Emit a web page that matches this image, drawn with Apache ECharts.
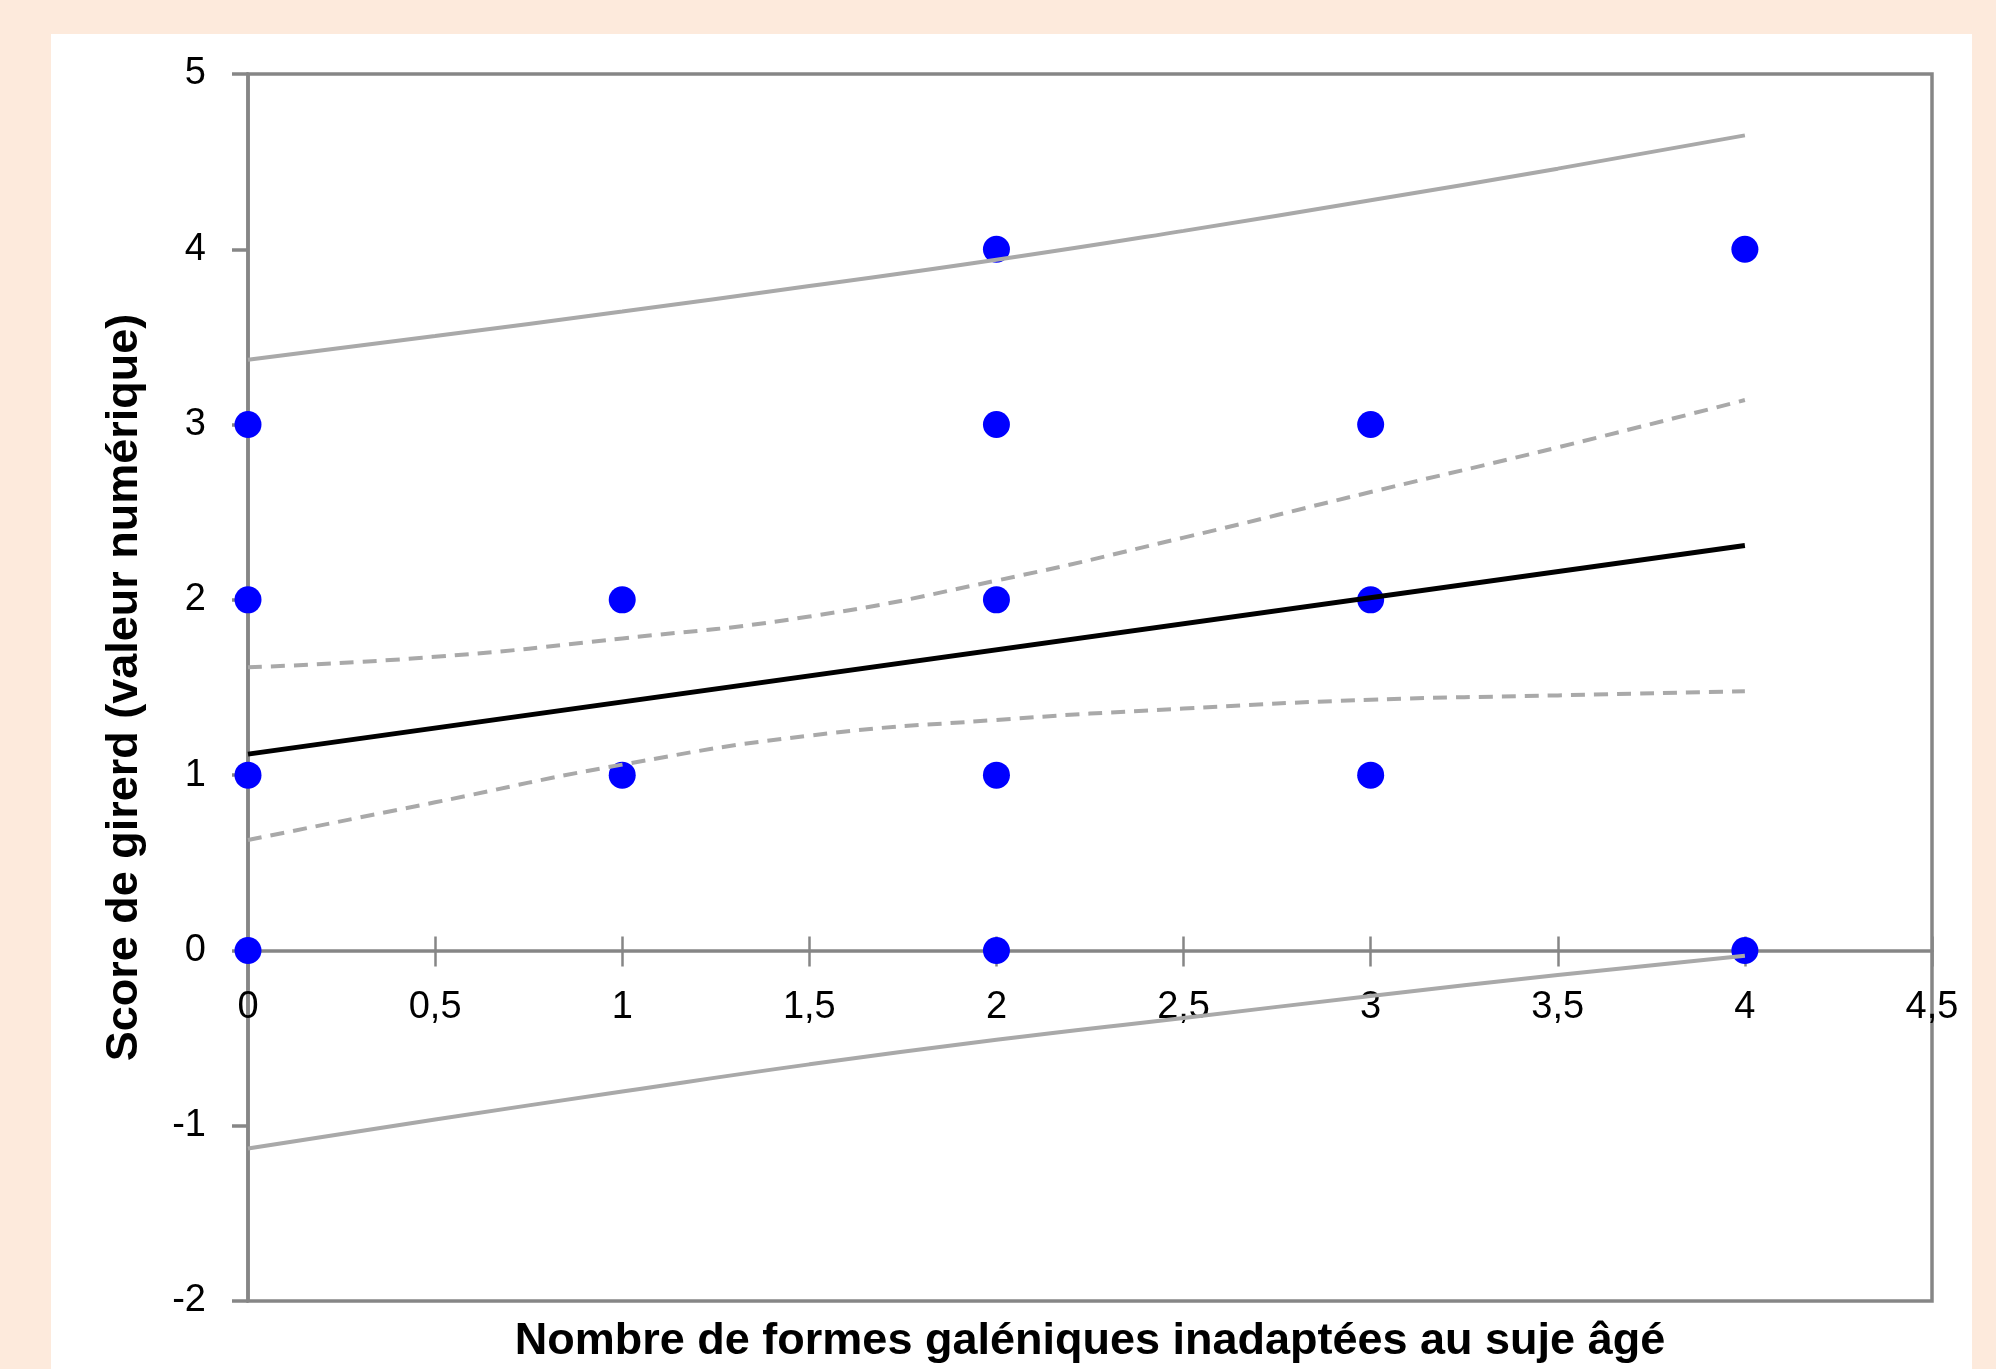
<!DOCTYPE html>
<html>
<head>
<meta charset="utf-8">
<script src="https://cdn.jsdelivr.net/npm/echarts@6/dist/echarts.min.js"></script>
<style>
  html, body {
    margin: 0;
    padding: 0;
    width: 1996px;
    height: 1369px;
    background: #fdeadc;
    overflow: hidden;
  }
  .panel {
    position: absolute;
    left: 51px;
    top: 34px;
    width: 1921px;
    height: 1335px;
    background: #ffffff;
  }
  #chart {
    position: absolute;
    left: 0;
    top: 0;
    width: 1996px;
    height: 1369px;
  }
</style>
</head>
<body>
<div class="panel"></div>
<div id="chart"></div>
<script>
// observed points: number of unsuitable forms vs Girerd score
const formsCount = [0, 0, 0, 0, 1, 1, 2, 2, 2, 2, 2, 3, 3, 3, 4, 4]
const girerdScore = [3, 2, 1, 0, 2, 1, 4, 3, 2, 1, 0, 3, 2, 1, 4, 0]

// regression line end points
const fitX = [0, 4]
const fitY = [1.12, 2.31]

// confidence / prediction bands, read along x
const bandX = [0, 0.5, 1, 1.5, 2, 2.5, 3, 3.5, 4]
const confUpper = [1.615, 1.675, 1.78, 1.905, 2.11, 2.355, 2.615, 2.87, 3.14]
const confLower = [0.63, 0.845, 1.06, 1.225, 1.315, 1.38, 1.43, 1.455, 1.478]
const predUpper = [3.37, 3.505, 3.645, 3.79, 3.94, 4.105, 4.28, 4.46, 4.65]
const predLower = [-1.13, -0.965, -0.805, -0.65, -0.51, -0.385, -0.26, -0.14, -0.03]

const xTitle = 'Nombre de formes galéniques inadaptées au suje âgé'
const yTitle = 'Score de girerd (valeur numérique)'

const FONT = '"Liberation Sans", Arial, sans-serif'
const AXIS_GREY = '#868686'
const BAND_GREY = '#a9a9a9'
const GRID_BOX = { left: 248, right: 64, top: 74, bottom: 68 }
// strip whose bottom edge sits on y = 0 of the main grid, carries the x axis
const ZERO_STRIP = { left: 248, right: 64, top: 74, bottom: 1369 - 950.4 }

function pairs(xs, ys) {
  return xs.map((x, i) => [x, ys[i]])
}

function commaLabel(v) {
  return String(v).replace('.', ',')
}

function bandSeries(ys, dashed) {
  return {
    type: 'line',
    data: pairs(bandX, ys),
    smooth: true,
    symbol: 'none',
    clip: false,
    lineStyle: {
      color: BAND_GREY,
      width: 4,
      type: dashed ? [14, 9] : 'solid'
    },
    z: 3
  }
}

function hiddenY(gridIndex) {
  return { gridIndex, type: 'value', min: 0, max: 1, show: false }
}

const chart = echarts.init(document.getElementById('chart'))

chart.setOption({
  animation: false,
  textStyle: { fontFamily: FONT },
  grid: [
    {
      ...GRID_BOX,
      show: true,
      borderColor: AXIS_GREY,
      borderWidth: 3.5,
      backgroundColor: 'transparent'
    },
    { ...ZERO_STRIP, show: false },
    { ...ZERO_STRIP, show: false }
  ],
  xAxis: [
    { gridIndex: 0, type: 'value', min: 0, max: 4.5, show: false },
    {
      gridIndex: 1,
      type: 'value',
      position: 'bottom',
      min: 0,
      max: 4.5,
      interval: 0.5,
      axisLine: { show: true, onZero: false, lineStyle: { color: AXIS_GREY, width: 3.5 } },
      axisTick: { show: true, inside: false, length: 16, lineStyle: { color: AXIS_GREY, width: 2.5 } },
      axisLabel: {
        color: '#000',
        fontSize: 38,
        fontFamily: FONT,
        margin: 38,
        formatter: commaLabel
      },
      splitLine: { show: false }
    },
    {
      // upper half of the crossing ticks
      gridIndex: 2,
      type: 'value',
      position: 'bottom',
      min: 0,
      max: 4.5,
      interval: 0.5,
      axisLine: { show: false, onZero: false },
      axisTick: { show: true, inside: true, length: 14, lineStyle: { color: AXIS_GREY, width: 2.5 } },
      axisLabel: { show: false },
      splitLine: { show: false }
    }
  ],
  yAxis: [
    {
      gridIndex: 0,
      type: 'value',
      min: -2,
      max: 5,
      interval: 1,
      axisLine: { show: true, onZero: false, lineStyle: { color: AXIS_GREY, width: 3.5 } },
      axisTick: { show: true, inside: false, length: 16, lineStyle: { color: AXIS_GREY, width: 3.5 } },
      axisLabel: {
        color: '#000',
        fontSize: 38,
        fontFamily: FONT,
        margin: 42
      },
      splitLine: { show: false },
      name: yTitle,
      nameLocation: 'middle',
      nameGap: 101,
      nameRotate: 90,
      nameTextStyle: {
        color: '#000',
        fontSize: 45,
        fontWeight: 'bold',
        fontFamily: FONT
      }
    },
    hiddenY(1),
    hiddenY(2)
  ],
  graphic: [
    {
      type: 'text',
      x: 1090,
      y: 1342,
      style: {
        text: xTitle,
        align: 'center',
        verticalAlign: 'middle',
        fill: '#000',
        font: 'bold 45px ' + FONT
      }
    }
  ],
  series: [
    {
      type: 'scatter',
      data: pairs(formsCount, girerdScore),
      symbol: 'circle',
      symbolSize: 27,
      clip: false,
      itemStyle: { color: '#0000ff', opacity: 1 },
      z: 2
    },
    bandSeries(predUpper, false),
    bandSeries(predLower, false),
    bandSeries(confUpper, true),
    bandSeries(confLower, true),
    {
      type: 'line',
      data: pairs(fitX, fitY),
      symbol: 'none',
      clip: false,
      lineStyle: { color: '#000', width: 5 },
      z: 4
    }
  ]
})
</script>
</body>
</html>
